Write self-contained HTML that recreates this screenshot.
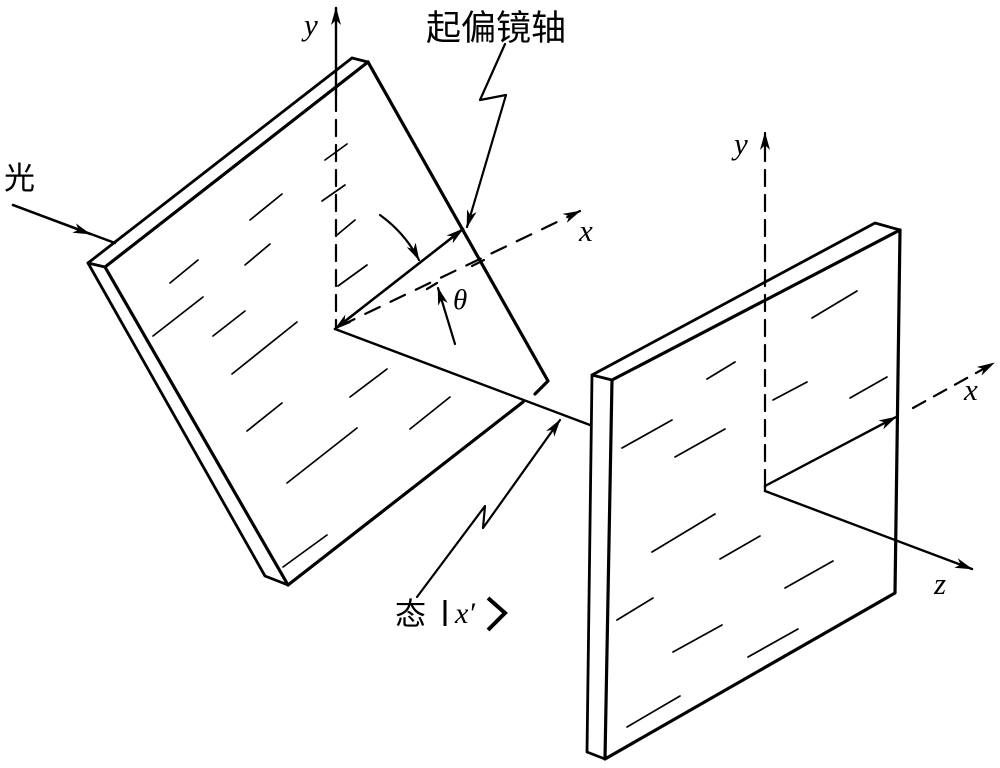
<!DOCTYPE html>
<html><head><meta charset="utf-8"><style>
html,body{margin:0;padding:0;background:#fff;}
svg{display:block;}
text{font-family:"Liberation Serif","Noto Serif CJK SC",serif;fill:#000;}
.cjk{font-family:"Liberation Sans","Noto Sans CJK SC",sans-serif;}
</style></head><body>
<svg width="1000" height="768" viewBox="0 0 1000 768" xmlns="http://www.w3.org/2000/svg">
<defs>
<marker id="ah" markerWidth="18" markerHeight="10" refX="17" refY="5" orient="auto" markerUnits="userSpaceOnUse">
<path d="M0,0 L18,5 L0,10 L5,5 Z" fill="#000"/></marker>
</defs>
<g fill="none" stroke="#000" stroke-linecap="round" stroke-linejoin="round">
<g stroke-width="3.2">
<path d="M368,62 L105,267 L288,585"/>
<path d="M368,62 L548,381 L535,394"/>
<path d="M288,585 L523,402"/>
<path d="M352,58 L88,263 L265,576 L288,585" stroke-width="2.8"/>
<path d="M352,58 L368,62 M88,263 L105,267" stroke-width="2.8"/>
</g>
<g stroke-width="1.7">
<path d="M325,160 L347,144 M322,201 L345,185 M250,220 L282,194 M337,235 L355,220 M245,265 L270,244 M170,283 L198,260 M338,286 L367,265 M153,336 L203,297 M213,336 L245,311 M232,374 L297,322 M350,397 L387,369 M247,431 L282,403 M410,429 L450,397 M287,483 L357,428 M283,567 L327,535"/>
</g>
<path d="M336,95 L336,8" stroke-width="2.4" marker-end="url(#ah)"/>
<path d="M336,95 L336,329" stroke-width="2.2" stroke-dasharray="16,9"/>
<path d="M340,326 L580,211" stroke-width="2.2" stroke-dasharray="16,12" marker-end="url(#ah)"/>
<path d="M335,329 L463,229" stroke-width="2.4" marker-end="url(#ah)"/>
<path d="M463,229 L335,329" stroke-width="2.4" marker-end="url(#ah)"/>
<path d="M335,329 L590,425" stroke-width="2.4"/>
<path d="M427,289 L437,283 M472,266 L484,260" stroke-width="2.2"/>
<path d="M455,344 L438,288" stroke-width="2.2" marker-end="url(#ah)"/>
<path d="M380,215 Q405,233 419,260" stroke-width="2.2" marker-end="url(#ah)"/>
<path d="M505,44 L480,100 L506,95 L467,227" stroke-width="2.2" marker-end="url(#ah)"/>
<path d="M417,597 L485,506 L483,528 L560,420" stroke-width="2.2" marker-end="url(#ah)"/>
<path d="M13,205 L115,243" stroke-width="2.4"/>
<path d="M13,205 L90,234" stroke-width="2.4" marker-end="url(#ah)"/>
<g stroke-width="3.2">
<path d="M900,230 L612,380 L605,759 L895,593 L900,230"/>
<path d="M612,380 L592,375 L875,223 L900,230" stroke-width="2.8"/>
<path d="M592,375 L587,752 L605,759" stroke-width="2.8"/>
</g>
<g stroke-width="1.7">
<path d="M812,318 L857,291 M707,379 L735,362 M773,400 L807,382 M850,398 L887,377 M622,448 L672,420 M675,457 L725,429 M652,552 L715,514 M720,559 L760,536 M785,588 L833,561 M617,620 L653,598 M673,652 L722,625 M748,657 L798,629 M627,727 L680,696"/>
</g>
<path d="M765,486 L765,133" stroke-width="2.2" stroke-dasharray="16,9" marker-end="url(#ah)"/>
<path d="M765,486 L896,417" stroke-width="2.4" marker-end="url(#ah)"/>
<path d="M913,408 L994,363" stroke-width="2.2" stroke-dasharray="14,10" marker-end="url(#ah)"/>
<path d="M765,491 L972,569" stroke-width="2.4" marker-end="url(#ah)"/>
<path d="M765,486 L765,491" stroke-width="2.4"/>
</g>
<text x="304" y="35" font-size="31" font-style="italic">y</text>
<text x="734" y="154" font-size="31" font-style="italic">y</text>
<text x="579" y="241" font-size="31" font-style="italic">x</text>
<text x="964" y="400" font-size="31" font-style="italic">x</text>
<text x="934" y="594" font-size="31" font-style="italic">z</text>
<text x="453" y="309" font-size="29" font-style="italic">θ</text>
<text class="cjk" x="4" y="189" font-size="31">光</text>
<text class="cjk" x="426" y="40" font-size="35">起偏镜轴</text>
<text class="cjk" x="395" y="625" font-size="31">态</text>
<path d="M445,600 L445,626" stroke="#000" stroke-width="3"/>
<text x="455" y="623" font-size="30" font-style="italic">x′</text>
<path d="M488,598 L505,613 L488,630" fill="none" stroke="#000" stroke-width="4"/>
</svg>
</body></html>
